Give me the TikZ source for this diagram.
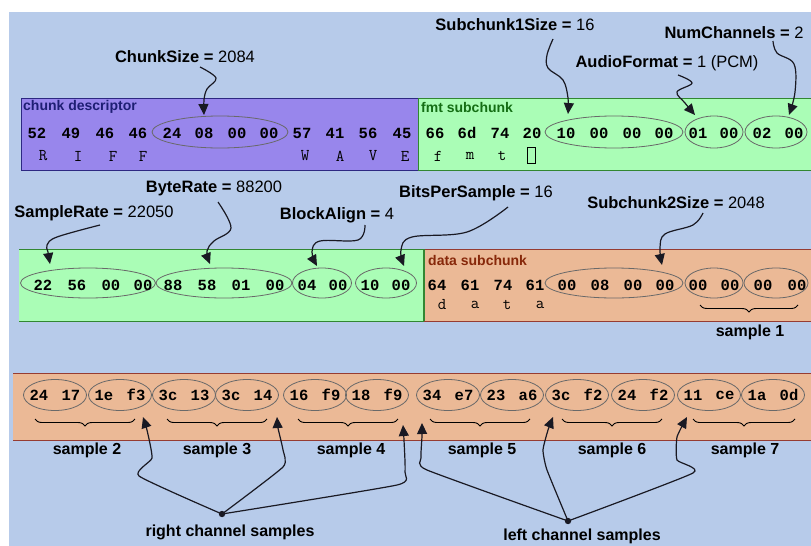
\documentclass[tikz,border=0pt]{standalone}
\usepackage{fontspec}
\setmainfont{Liberation Sans}
\newfontfamily\hexfont{Liberation Mono}
\usetikzlibrary{arrows.meta,decorations.pathreplacing,shapes.geometric}
\definecolor{bgblue}{RGB}{183,203,234}
\definecolor{boxpurple}{RGB}{152,134,236}
\definecolor{boxgreen}{RGB}{170,253,182}
\definecolor{boxsalmon}{RGB}{235,185,150}
\definecolor{bdpurple}{RGB}{45,40,130}
\definecolor{bdgreen}{RGB}{50,135,50}
\definecolor{bdsalmon}{RGB}{150,60,50}
\definecolor{ttlpurple}{RGB}{30,30,115}
\definecolor{ttlgreen}{RGB}{20,110,20}
\definecolor{ttlsalmon}{RGB}{135,40,10}
\definecolor{ellgray}{RGB}{105,105,105}
\definecolor{arrcol}{RGB}{25,25,35}
\begin{document}
\begin{tikzpicture}[x=1pt,y=-1pt,
 lbl/.style={font=\fontsize{16.5}{18}\selectfont, inner sep=0pt},
 hex/.style={font=\hexfont\bfseries\fontsize{15.5}{16}\selectfont, inner sep=0pt},
 chr/.style={font=\ttfamily\fontsize{16.5}{17}\selectfont, inner sep=0pt},
 ell/.style={ellipse, draw=ellgray, line width=0.8pt, inner sep=0pt},
 arr/.style={draw=arrcol, line width=1.2pt, -{Triangle[length=11pt,width=10pt]}},
 ttl/.style={font=\bfseries\fontsize{14}{15}\selectfont, inner sep=0pt, anchor=west},
 smp/.style={font=\bfseries\fontsize{16}{17}\selectfont, inner sep=0pt},
 brc/.style={decorate, decoration={brace,mirror,amplitude=7pt}, draw=black, line width=0.9pt},
]
\useasboundingbox (0,0) rectangle (811,546);
\fill[white] (0,0) rectangle (811,546);
\fill[bgblue] (9,12) rectangle (811,546);

% ---------- row 1 boxes
\fill[boxpurple] (21,98) rectangle (418,170);
\draw[bdpurple, line width=1pt] (418,98) -- (21,98) -- (21,170) -- (418,170);
\fill[boxgreen] (418,98) rectangle (812,170);
\draw[bdgreen, line width=1pt] (812,98) -- (418,98) -- (418,170) -- (812,170);
\node[ttl, text=ttlpurple] (t1) at (23,107) {chunk descriptor};
\node[ttl, text=ttlgreen] (t2) at (421,107) {fmt subchunk};

% ---------- row 2 boxes
\fill[boxgreen] (19,249) rectangle (424,321);
\draw[bdgreen, line width=1pt] (19,249) -- (424,249) (19,321) -- (424,321);
\fill[boxsalmon] (424,249) rectangle (812,321);
\draw[bdsalmon, line width=1pt] (424,249) -- (812,249) (424,321) -- (812,321);
\draw[bdgreen, line width=1.2pt] (424,249) -- (424,321);
\node[ttl, text=ttlsalmon] (t3) at (428,260) {data subchunk};

% ---------- row 3 box
\fill[boxsalmon] (13,373) rectangle (812,440);
\draw[bdsalmon, line width=1pt] (13,373) -- (812,373) (13,440) -- (812,440);

% ---------- row 1 ellipses and bytes
\node[ell, minimum width=136pt, minimum height=32pt] (cs) at (220,132) {};
\node[ell, minimum width=138pt, minimum height=32pt] (s1e) at (614,132) {};
\node[ell, minimum width=58pt, minimum height=32pt] (ae) at (714,132) {};
\node[ell, minimum width=62pt, minimum height=32pt] (nce) at (776,132) {};
\foreach \x/\t [count=\i] in {37/52,71/49,105/46,138/46,172/24,204/08,237/00,269/00,302/57,335/41,368/56,402/45,435/66,467/6d,500/74,532/20,566/10,599/00,632/00,664/00,698/01,729/00,762/02,794/00}
  \node[hex] (ra\i) at (\x,133) {\t};
\foreach \x/\t [count=\i] in {43/R,78/I,113/F,143/F,305/W,340/A,373/V,405/E,438/f,470/m,502/t}
  \node[chr] (la\i) at (\x,156) {\t};
\node[draw=black, line width=0.7pt, inner sep=0pt, minimum width=8pt, minimum height=16pt] (sq) at (531,155) {};

% ---------- row 2 ellipses and bytes
\node[ell, minimum width=135pt, minimum height=30pt] (sre) at (88,283) {};
\node[ell, minimum width=136pt, minimum height=30pt] (bre) at (224,283) {};
\node[ell, minimum width=59pt, minimum height=30pt] (bae) at (322,283) {};
\node[ell, minimum width=61pt, minimum height=30pt] (bpe) at (386,283) {};
\node[ell, minimum width=138pt, minimum height=30pt] (s2e) at (614,283) {};
\node[ell, minimum width=58pt, minimum height=30pt] (de1) at (714,283) {};
\node[ell, minimum width=64pt, minimum height=30pt] (de2) at (776,283) {};
\foreach \x/\t [count=\i] in {43/22,77/56,111/00,143/00,173/88,207/58,241/01,275/00,307/04,338/00,370/10,401/00,437/64,470/61,503/74,535/61,567/00,600/08,633/00,665/00,698/00,730/00,763/00,797/00}
  \node[hex] (rb\i) at (\x,285) {\t};
\foreach \x/\t [count=\i] in {442/d,475/a,507/t,540/a}
  \node[chr] (lb\i) at (\x,305) {\t};
\draw[brc] (700,305) -- (798,305);
\node[smp] (smp1) at (750,332) {sample 1};

% ---------- row 3 ellipses and bytes
\foreach \c/\a/\b [count=\i] in {55/24/17,120/1e/f3,184/3c/13,247/3c/14,315/16/f9,377/18/f9,448/34/e7,512/23/a6,577/3c/f2,643/24/f2,709/11/ce,773/1a/0d}{
  \node[ell, minimum width=63pt, minimum height=31pt] (e\i) at (\c,395) {};
  \node[hex] (pa\i) at (\c-16,395) {\a};
  \node[hex] (pb\i) at (\c+16,395) {\b};
}
\foreach \a/\b in {35/135,167/267,298/398,430/530,562/662,693/795}
  \draw[brc] (\a,419) -- (\b,419);
\foreach \x/\n in {87/2,217/3,351/4,482/5,612/6,745/7}
  \node[smp] (smp\n) at (\x,450) {sample \n};

% ---------- labels
\node[lbl] (csl) at (185,57) {\textbf{ChunkSize =} 2084};
\node[lbl] (s1l) at (515,25) {\textbf{Subchunk1Size =} 16};
\node[lbl] (afl) at (667,63) {\textbf{AudioFormat =} 1 (PCM)};
\node[lbl] (ncl) at (734,33) {\textbf{NumChannels =} 2};
\node[lbl] (srl) at (94,213) {\textbf{SampleRate =} 22050};
\node[lbl] (brl) at (214,188) {\textbf{ByteRate =} 88200};
\node[lbl] (bal) at (337,215) {\textbf{BlockAlign =} 4};
\node[lbl] (bpl) at (476,193) {\textbf{BitsPerSample =} 16};
\node[lbl] (s2l) at (676,203) {\textbf{Subchunk2Size =} 2048};

% ---------- top arrows
\draw[arr] plot[smooth, tension=0.6] coordinates {([shift={(15,10)}]csl.center) (216,78) (207,89) (204,100) ([shift={(-16,-17)}]cs.center)};
\draw[arr] plot[smooth, tension=0.6] coordinates {([shift={(38,14)}]s1l.center) (547,55) (548,68) (563,80) (568,98) ([shift={(-46,-18)}]s1e.center)};
\draw[arr] plot[smooth, tension=0.6] coordinates {([shift={(11,12)}]afl.center) (692,83) (677,92) (685,103) ([shift={(-19,-17)}]ae.center)};
\draw[arr] plot[smooth, tension=0.6] coordinates {([shift={(39,8)}]ncl.center) (777,53) (794,64) (795,92) ([shift={(13,-17)}]nce.center)};
\draw[arr] plot[smooth, tension=0.6] coordinates {([shift={(6,12)}]srl.center) (57,237) (47,245) (48,252) ([shift={(-38,-19)}]sre.center)};
\draw[arr] plot[smooth, tension=0.6] coordinates {([shift={(4,14)}]brl.center) (231,228) (214,241) (207,251) ([shift={(-14,-19)}]bre.center)};
\draw[arr] plot[smooth, tension=0.6] coordinates {([shift={(28,10)}]bal.center) (358,240) (320,241) (312,252) ([shift={(-5,-17)}]bae.center)};
\draw[arr] plot[smooth, tension=0.6] coordinates {([shift={(32,14)}]bpl.center) (467,232) (412,237) (401,250) ([shift={(18,-17)}]bpe.center)};
\draw[arr] plot[smooth, tension=0.6] coordinates {([shift={(27,10)}]s2l.center) (693,225) (665,234) (660,248) ([shift={(48,-18)}]s2e.center)};

% ---------- channel samples
\fill[arrcol] (222,514) circle (3.2pt) node[inner sep=0pt] (rcd) {};
\fill[arrcol] (568,521) circle (3.2pt) node[inner sep=0pt] (lcd) {};
\node[smp] (rcl) at (230,532) {right channel samples};
\node[smp] (lcl) at (582,536) {left channel samples};
\draw[arr] plot[smooth, tension=0.3] coordinates {(rcd) (139,476) (152,458) (147,430) ([shift={(23,22)}]e2.center)};
\draw[arr] plot[smooth, tension=0.3] coordinates {(rcd) (283,467) (283,450) (278,428) ([shift={(30,22)}]e4.center)};
\draw[arr] plot[smooth, tension=0.3] coordinates {(rcd) (397,485) (405,472) (404,440) ([shift={(26,30)}]e6.center)};
\draw[arr] plot[smooth, tension=0.3] coordinates {(lcd) (427,470) (421,458) (422,436) ([shift={(-26,28)}]e7.center)};
\draw[arr] plot[smooth, tension=0.3] coordinates {(lcd) (547,470) (543,450) (548,430) ([shift={(-24,22)}]e9.center)};
\draw[arr] plot[smooth, tension=0.3] coordinates {(lcd) (693,473) (677,460) (677,437) ([shift={(-22,22)}]e11.center)};
\end{tikzpicture}
\end{document}
